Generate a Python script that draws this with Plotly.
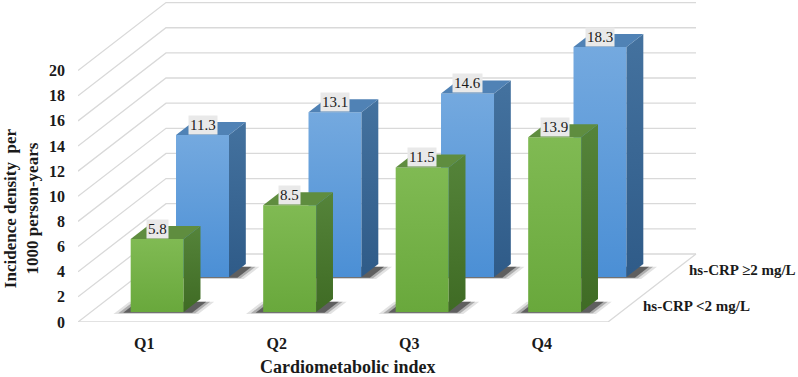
import plotly.graph_objects as go

# ---------------- data ----------------
categories = ["Q1", "Q2", "Q3", "Q4"]
series_names = ["hs-CRP <2 mg/L", "hs-CRP \u22652 mg/L"]
low_crp = [5.8, 8.5, 11.5, 13.9]      # front row (green)
high_crp = [11.3, 13.1, 14.6, 18.3]   # back row (blue)
y_ticks = [0, 2, 4, 6, 8, 10, 12, 14, 16, 18, 20]

# ---------------- geometry (oblique projection) ----------------
PX_PER_CAT = 132.5
PX_PER_VAL = 12.57
DX = 88 / PX_PER_CAT      # depth shift in x units for full floor depth
DY = 68 / PX_PER_VAL      # depth shift in value units for full floor depth
HALF_W = 0.2
rows = [  # (values, z_front, z_back, colours)
    (high_crp, 0.662, 0.853,
     dict(front=["#4b8fd5", "#74a9df"], side=["#2f5b88", "#44729f"], top="#5082b5")),
    (low_crp, 0.147, 0.338,
     dict(front=["#69a83c", "#80ba53"], side=["#3f6b24", "#55843a"], top="#5f8d3f")),
]
FONT = "Liberation Serif, Times New Roman, serif"


def P(x, z, v):
    return x + z * DX, v + z * DY


fig = go.Figure()


def poly(pts, color=None, grad=None, opacity=1.0):
    xs = [p[0] for p in pts] + [pts[0][0]]
    ys = [p[1] for p in pts] + [pts[0][1]]
    kw = {}
    if grad is not None:
        kw["fillgradient"] = dict(type="vertical",
                                  colorscale=[[0, grad[0]], [1, grad[1]]])
    else:
        kw["fillcolor"] = color
    fig.add_trace(go.Scatter(x=xs, y=ys, mode="lines", fill="toself",
                             line=dict(width=0), opacity=opacity,
                             hoverinfo="skip", showlegend=False, **kw))


def lines(pts, color="#d9d9d9", width=1.3):
    fig.add_trace(go.Scatter(x=[p[0] for p in pts], y=[p[1] for p in pts],
                             mode="lines", line=dict(color=color, width=width),
                             hoverinfo="skip", showlegend=False))


n = len(categories)
# gridlines: left wall (slanted) + back wall (horizontal)
for v in y_ticks:
    lines([P(0, 0, v), P(0, 1, v), P(n, 1, v)])
# floor outline
lines([P(0, 0, 0), P(n, 0, 0), P(n, 1, 0)])

# bars
for vals, z0, z1, col in rows:
    # soft shadows on the floor
    for i, v in enumerate(vals):
        c = i + 0.5
        for exl, exr, dz, op in [(0.11, 0.13, 0.03, 0.12),
                                 (0.08, 0.10, 0.02, 0.25),
                                 (0.05, 0.07, 0.01, 0.5)]:
            poly([P(c - HALF_W - exl, z0 - dz, 0),
                  P(c + HALF_W + exr, z0 - dz, 0),
                  P(c + HALF_W + exr, z1 - 0.04, 0),
                  P(c - HALF_W - exl, z1 - 0.04, 0)],
                 color="#111111", opacity=op)
    for i, v in enumerate(vals):
        c = i + 0.5
        l, r = c - HALF_W, c + HALF_W
        # front face
        poly([P(l, z0, 0), P(r, z0, 0), P(r, z0, v), P(l, z0, v)], grad=col["front"])
        # side face
        poly([P(r, z0, 0), P(r, z1, 0), P(r, z1, v), P(r, z0, v)], grad=col["side"])
        # top face
        poly([P(l, z0, v), P(r, z0, v), P(r, z1, v), P(l, z1, v)], color=col["top"])

annotations = []
# data labels
for vals, z0, z1, col in rows:
    for i, v in enumerate(vals):
        x, y = P(i + 0.5, z0, v)
        annotations.append(dict(x=x, y=y, xref="x", yref="y", text=f"{v:.1f}",
                                showarrow=False, yshift=10, bgcolor="#e9e9e9",
                                borderpad=1,
                                font=dict(family=FONT, size=15, color="#1a1a1a")))
# series labels (depth axis)
for (vals, z0, z1, col), name in zip(rows, [series_names[1], series_names[0]]):
    x, y = P(n, (z0 + z1) / 2, 0)
    annotations.append(dict(x=x, y=y, xref="x", yref="y", text=f"<b>{name}</b>",
                            showarrow=False, xanchor="left", yanchor="middle",
                            xshift=12,
                            font=dict(family=FONT, size=15, color="#1a1a1a")))
# axis titles
annotations.append(dict(x=0.375, y=-0.14, xref="paper", yref="paper",
                        xanchor="center", yanchor="middle",
                        text="<b>Cardiometabolic index</b>", showarrow=False,
                        font=dict(family=FONT, size=18, color="#1a1a1a")))
annotations.append(dict(x=-0.079, y=0.354, xref="paper", yref="paper",
                        xanchor="center", yanchor="middle",
                        text="<b>Incidence density  per<br>1000 person-years</b>",
                        showarrow=False, textangle=-90,
                        font=dict(family=FONT, size=17, color="#1a1a1a")))

fig.update_layout(
    width=798, height=377,
    margin=dict(l=78, r=0, t=0, b=55),
    paper_bgcolor="white", plot_bgcolor="white",
    annotations=annotations,
    xaxis=dict(range=[0, 720 / PX_PER_CAT], showgrid=False, zeroline=False,
               showline=False, tickvals=[i + 0.5 for i in range(n)],
               ticktext=[f"<b>{c}</b>" for c in categories],
               ticks="", ticklabelstandoff=10, automargin=False,
               tickfont=dict(family=FONT, size=16, color="#1a1a1a")),
    yaxis=dict(range=[0, 322 / PX_PER_VAL], showgrid=False, zeroline=False,
               showline=False, tickvals=y_ticks,
               ticktext=[f"<b>{t}</b>" for t in y_ticks],
               ticks="", ticklabelstandoff=12, automargin=False,
               tickfont=dict(family=FONT, size=16, color="#1a1a1a")),
)

fig.write_html("out.html",
               config={"displayModeBar": False},
               post_script="document.body.style.margin='0px';")
